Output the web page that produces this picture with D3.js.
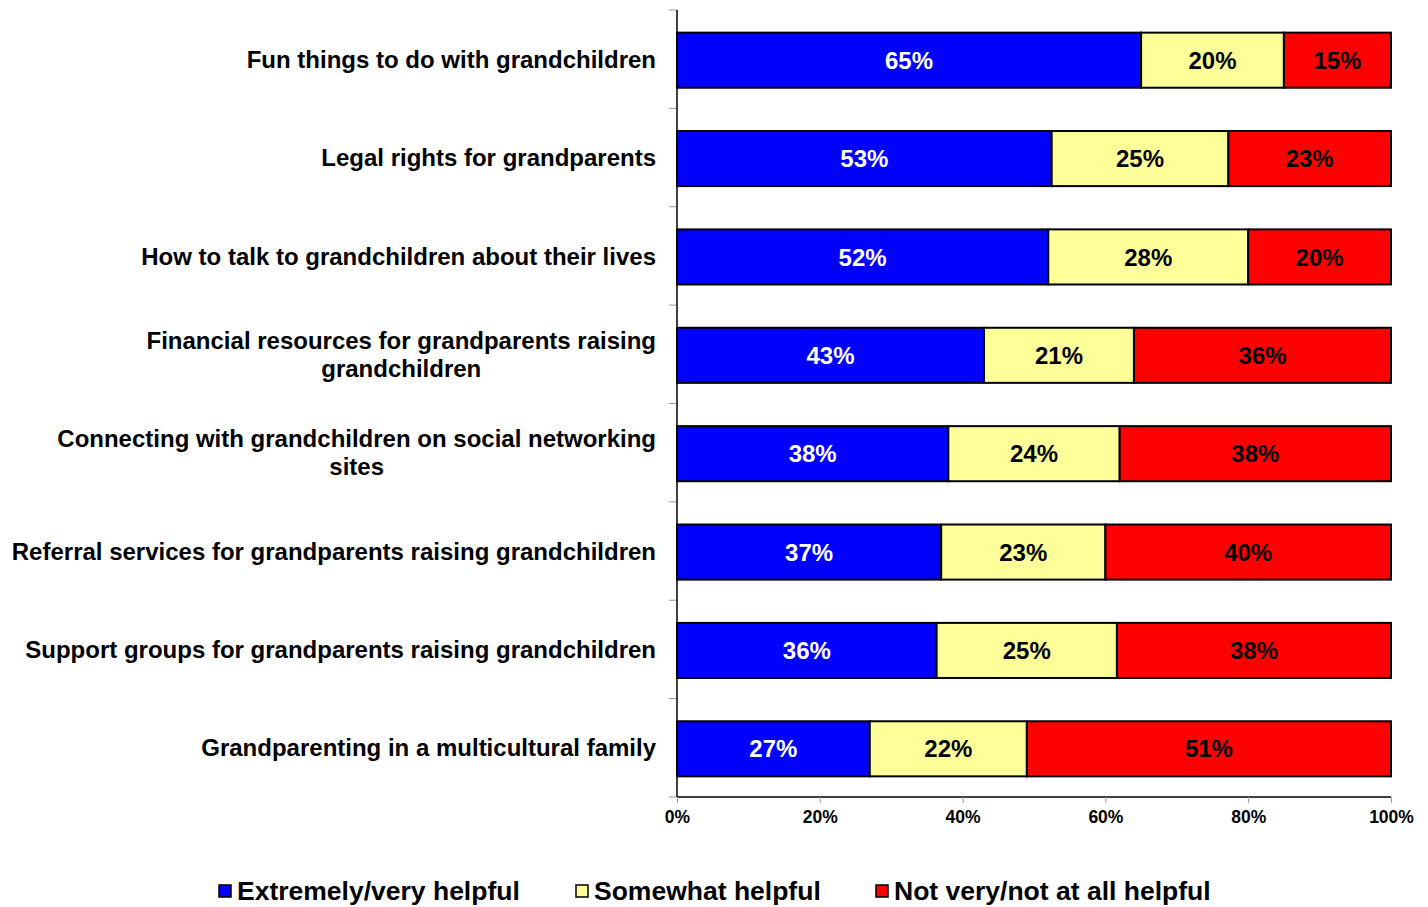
<!DOCTYPE html>
<html><head><meta charset="utf-8">
<script src="https://cdn.jsdelivr.net/npm/d3@7"></script>
<style>body{margin:0;background:#fff;} svg{display:block;font-family:"Liberation Sans",Arial,sans-serif;font-weight:bold;}</style>
</head><body>
<svg id="c" width="1428" height="907"></svg>
<script>
const categories = [
  ["Fun things to do with grandchildren"],
  ["Legal rights for grandparents"],
  ["How to talk to grandchildren about their lives"],
  ["Financial resources for grandparents raising", "grandchildren"],
  ["Connecting with grandchildren on social networking", "sites"],
  ["Referral services for grandparents raising grandchildren"],
  ["Support groups for grandparents raising grandchildren"],
  ["Grandparenting in a multicultural family"]
];
const seriesNames = ["Extremely/very helpful", "Somewhat helpful", "Not very/not at all helpful"];
const extremely = [65, 53, 52, 43, 38, 37, 36, 27];
const somewhat  = [20, 25, 28, 21, 24, 23, 25, 22];
const notHelpful= [15, 23, 20, 36, 38, 40, 38, 51];
const tickValues = [0, 0.2, 0.4, 0.6, 0.8, 1];
const colors = ["#0000FF", "#FFFF99", "#FF0000"];
const textColors = ["#FFFFFF", "#000000", "#000000"];

const svg = d3.select("#c");
const x = d3.scaleLinear().domain([0, 1]).range([677, 1391]);
const y = d3.scaleBand().domain(d3.range(categories.length)).range([11, 798]).paddingInner(0.44).paddingOuter(0.22);
const yb = d3.scaleBand().domain(d3.range(categories.length)).range([10, 797]);

const series = [extremely, somewhat, notHelpful];
const rows = categories.map((c, i) => {
  const vals = series.map(s => s[i]);
  const tot = d3.sum(vals);
  let acc = 0;
  return vals.map((v, k) => { const seg = {i, k, v, x0: acc / tot, x1: (acc + v) / tot}; acc += v; return seg; });
});

// band tick marks on y axis
svg.append("g").selectAll("line").data(d3.range(categories.length + 1)).join("line")
  .attr("x1", 669).attr("x2", 677)
  .attr("y1", d => d < categories.length ? yb(d) : 797)
  .attr("y2", d => d < categories.length ? yb(d) : 797)
  .attr("stroke", "#999").attr("stroke-width", 1);

// bars
const g = svg.append("g");
rows.forEach(r => {
  g.selectAll(null).data(r).join("rect")
    .attr("x", d => x(d.x0)).attr("width", d => x(d.x1) - x(d.x0))
    .attr("y", d => y(d.i)).attr("height", y.bandwidth())
    .attr("fill", d => colors[d.k]).attr("stroke", "#000").attr("stroke-width", 2);
  g.selectAll(null).data(r).join("text")
    .attr("x", d => (x(d.x0) + x(d.x1)) / 2).attr("y", d => y(d.i) + y.bandwidth() / 2)
    .attr("dy", "0.36em").attr("text-anchor", "middle")
    .attr("font-size", 24).attr("fill", d => textColors[d.k])
    .text(d => d.v + "%");
});

// axes lines
svg.append("line").attr("x1", 677).attr("x2", 677).attr("y1", 10).attr("y2", 797).attr("stroke", "#000").attr("stroke-width", 1.5);
const xa = svg.append("g").attr("transform", "translate(0,797)")
  .call(d3.axisBottom(x).tickValues(tickValues).tickFormat(d3.format(".0%")).tickSize(6).tickPadding(8));
xa.select(".domain").attr("stroke", "#000").attr("stroke-width", 1.5).attr("d", "M677,0H1391");
xa.selectAll(".tick line").attr("stroke", "#999");
xa.selectAll(".tick text").attr("font-size", 17.5).attr("font-weight", "bold").attr("font-family", "Liberation Sans, Arial, sans-serif").attr("fill", "#000");

// category labels
categories.forEach((lines, i) => {
  const cy = yb(i) + yb.bandwidth() / 2;
  const tg = svg.append("g");
  const texts = lines.map((l, j) => tg.append("text").attr("font-size", 24).attr("fill", "#000")
    .attr("text-anchor", "middle").attr("y", cy + (j - (lines.length - 1) / 2) * 28).attr("dy", "0.36em").text(l));
  const maxW = d3.max(texts, t => t.node().getComputedTextLength());
  texts.forEach(t => t.attr("x", 656 - maxW / 2));
});

// legend
const legX = [219, 576, 876];
const lg = svg.append("g");
seriesNames.forEach((n, k) => {
  lg.append("rect").attr("x", legX[k]).attr("y", 885).attr("width", 12).attr("height", 12)
    .attr("fill", colors[k]).attr("stroke", "#000").attr("stroke-width", 1.5);
  lg.append("text").attr("x", legX[k] + 18).attr("y", 890).attr("dy", "0.36em")
    .attr("font-size", 26.5).attr("fill", "#000").text(n);
});
</script>
</body></html>
